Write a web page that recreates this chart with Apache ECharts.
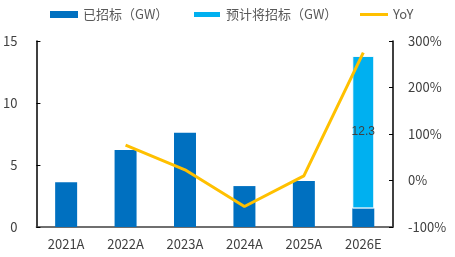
<!DOCTYPE html>
<html>
<head>
<meta charset="utf-8">
<script src="https://cdn.jsdelivr.net/npm/echarts@6/dist/echarts.min.js"></script>
<style>
  html, body { margin: 0; padding: 0; background: #fff; }
  #chart { width: 455px; height: 257px; }
</style>
</head>
<body>
<div id="chart"></div>
<script>
// 数据
const categories = ['2021A', '2022A', '2023A', '2024A', '2025A', '2026E']
const awarded = [3.6, 6.2, 7.6, 3.3, 3.7, 1.5] // 已招标（GW）
const planned = [null, null, null, null, null, 12.3] // 预计将招标（GW）
const yoy = [null, 76, 23, -56, 10, 275] // YoY, %

const myChart = echarts.init(document.getElementById('chart'))
const font = 'Microsoft YaHei, "Noto Sans CJK SC", sans-serif'

// 图例: 每项单独定位
function legendAt(left, name, icon) {
  return {
    top: 3,
    left: left,
    itemWidth: 28,
    itemHeight: 7,
    textStyle: { color: '#595959', fontSize: 13, fontFamily: font },
    data: [{ name: name, icon: icon }]
  }
}

const option = {
  animation: false,
  textStyle: { fontFamily: font },
  legend: [
    legendAt(45, '已招标（GW）', 'rect'),
    legendAt(187, '预计将招标（GW）', 'rect'),
    legendAt(355, 'YoY', 'path://M0,0 H28 V3 H0 Z')
  ],
  grid: { left: 36, right: 62, top: 41, bottom: 30 },
  xAxis: {
    type: 'category',
    data: categories,
    axisTick: { show: false },
    axisLine: { lineStyle: { color: '#404040', width: 1.5 } },
    axisLabel: { color: '#404040', fontSize: 13, margin: 11 }
  },
  yAxis: [
    {
      type: 'value',
      min: 0,
      max: 15,
      interval: 5,
      splitLine: { show: false },
      axisLine: { show: true, lineStyle: { color: '#000', width: 1.5 } },
      axisTick: { show: true, inside: true, length: 4, lineStyle: { color: '#000' } },
      axisLabel: { color: '#404040', fontSize: 13, margin: 19 }
    },
    {
      type: 'value',
      min: -100,
      max: 300,
      interval: 100,
      splitLine: { show: false },
      axisLine: { show: true, lineStyle: { color: '#000', width: 1.5 } },
      axisTick: { show: true, inside: true, length: 4, lineStyle: { color: '#000' } },
      axisLabel: { color: '#404040', fontSize: 13, margin: 15, formatter: '{value}%' }
    }
  ],
  series: [
    {
      name: '已招标（GW）',
      type: 'bar',
      stack: 'total',
      barWidth: '37%',
      itemStyle: { color: '#0070C0' },
      data: awarded
    },
    {
      name: '预计将招标（GW）',
      type: 'bar',
      stack: 'total',
      barWidth: '37%',
      itemStyle: { color: '#00B0F0', borderColor: '#fff', borderWidth: 1 },
      label: {
        show: true,
        position: 'inside',
        color: '#404040',
        fontSize: 12,
        fontFamily: 'Arial, "Liberation Sans", sans-serif'
      },
      data: planned
    },
    {
      name: 'YoY',
      type: 'line',
      yAxisIndex: 1,
      symbol: 'none',
      lineStyle: { color: '#FFC000', width: 3 },
      itemStyle: { color: '#FFC000' },
      data: yoy
    }
  ]
}

myChart.setOption(option)
</script>
</body>
</html>
